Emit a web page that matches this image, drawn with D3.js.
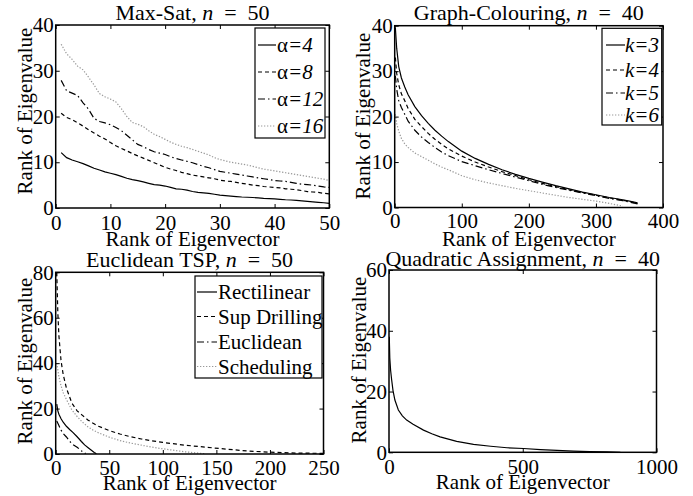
<!DOCTYPE html>
<html>
<head>
<meta charset="utf-8">
<script src="https://cdn.jsdelivr.net/npm/d3@7"></script>
</head>
<body style="margin:0">
<svg id="fig" width="693" height="496"></svg>
<script>
// ---- Max-Sat, n = 50 : eigenvalue rank per eigenvector rank ----
const satX = d3.range(1, 51);
const satA4 = [12.1, 11.0, 10.5, 10.1, 9.7, 9.2, 8.7, 8.3, 7.9, 7.6, 7.3, 6.9, 6.5, 6.2, 6.0, 5.7, 5.4, 5.1, 5.0, 4.8,
  4.5, 4.2, 4.1, 3.9, 3.6, 3.4, 3.3, 3.2, 3.0, 2.8, 2.7, 2.6, 2.5, 2.4, 2.35, 2.3, 2.2, 2.1, 2.05, 2.0,
  1.9, 1.8, 1.75, 1.65, 1.55, 1.45, 1.35, 1.25, 1.15, 1.0];
const satA8 = [20.7, 19.8, 19.3, 18.6, 17.9, 17.1, 16.4, 15.7, 15.1, 14.3, 13.6, 13.0, 12.5, 11.9, 11.4, 10.9, 10.4, 9.9, 9.4, 8.9,
  8.5, 8.2, 7.8, 7.5, 7.2, 7.0, 6.8, 6.6, 6.4, 6.1, 5.9, 5.8, 5.6, 5.4, 5.2, 5.0, 4.9, 4.7, 4.6, 4.5,
  4.4, 4.2, 4.1, 4.0, 3.8, 3.6, 3.5, 3.4, 3.2, 3.1];
const satA12 = [27.9, 25.6, 25.1, 24.6, 23.0, 21.6, 19.6, 18.9, 18.6, 18.2, 17.6, 16.9, 15.9, 14.9, 13.9, 13.4, 12.8, 12.3, 12.0, 11.7,
  11.2, 10.8, 10.5, 10.2, 9.9, 9.5, 9.1, 8.8, 8.4, 8.0, 7.8, 7.6, 7.4, 7.2, 7.0, 6.8, 6.6, 6.4, 6.2, 6.0,
  5.9, 5.8, 5.6, 5.4, 5.2, 5.1, 5.0, 4.8, 4.6, 4.5];
const satA16 = [35.8, 33.7, 32.5, 31.0, 30.2, 28.6, 26.9, 25.0, 24.3, 23.8, 23.2, 21.7, 20.0, 18.7, 18.3, 17.8, 16.9, 16.1, 15.6, 15.0,
  14.4, 13.9, 13.5, 13.2, 12.8, 12.4, 12.0, 11.6, 11.0, 10.6, 10.3, 10.0, 9.8, 9.6, 9.4, 9.1, 8.8, 8.5, 8.3, 8.1,
  7.9, 7.7, 7.5, 7.3, 7.1, 6.9, 6.7, 6.5, 6.3, 6.0];

// ---- Graph-Colouring, n = 40 ----
const gcX = [1, 3, 6, 10, 15, 20, 30, 40, 50, 60, 70, 80, 100, 120, 140, 160, 180, 200, 220, 240, 260, 280, 300, 320, 340, 350, 362];
const gcK3 = [39.5, 35, 31, 28.5, 26.5, 24.8, 22.2, 20.2, 18.5, 17.0, 15.7, 14.5, 12.4, 10.8, 9.5, 8.3, 7.3, 6.4, 5.6, 4.8, 4.1, 3.4, 2.8, 2.2, 1.7, 1.4, 1.0];
const gcK4 = [33, 29.5, 27, 25, 23.5, 21.8, 19.4, 17.8, 16.3, 15.0, 13.9, 12.9, 11.3, 10.0, 8.9, 7.9, 7.0, 6.1, 5.3, 4.6, 3.9, 3.3, 2.7, 2.1, 1.6, 1.3, 0.9];
const gcK5 = [29, 26, 23.5, 22, 20.5, 19, 17.0, 15.5, 14.3, 13.2, 12.2, 11.4, 10.1, 9.2, 8.3, 7.5, 6.7, 5.9, 5.1, 4.4, 3.8, 3.2, 2.6, 2.0, 1.5, 1.2, 0.8];
const gcK6 = [20.5, 18.5, 16.8, 15.2, 14.0, 13.2, 12.0, 11.2, 10.4, 9.6, 8.9, 8.3, 7.0, 6.1, 5.4, 4.8, 4.2, 3.7, 3.2, 2.7, 2.2, 1.8, 1.4, 0.9, 0.3, null, null];

// ---- Euclidean TSP, n = 50 ----
const tspRectX = [1, 2, 3, 5, 7, 10, 13, 16, 20, 24, 27, 30, 33, 36, 38];
const tspRectY = [22, 19, 17.5, 15.5, 14, 12.2, 10.8, 9.5, 7.6, 5.5, 4.0, 2.9, 1.8, 0.7, 0.1];
const tspDrillX = [1, 2, 3, 5, 7, 10, 15, 20, 25, 30, 35, 40, 50, 60, 70, 80, 90, 100, 120, 140, 160, 180, 200, 225, 250];
const tspDrillY = [80, 62, 52, 41, 35, 29, 22.5, 19, 17, 15, 13.5, 12.2, 10.3, 8.8, 7.6, 6.6, 5.8, 5.1, 3.9, 3.0, 2.1, 1.3, 0.8, 0.4, 0.3];
const tspEuclX = [1, 3, 5, 7, 10, 13, 16, 20, 23, 26, 28];
const tspEuclY = [14.5, 12.5, 10.5, 9, 7.5, 5.6, 4.2, 3.0, 1.8, 0.6, 0.2];
const tspSchedX = [1, 2, 3, 5, 7, 10, 15, 20, 25, 30, 35, 40, 50, 60, 70, 80, 90, 100, 120, 140];
const tspSchedY = [40, 37, 34, 30, 27, 24, 19.5, 16.5, 14, 12, 10.5, 9.3, 7.4, 5.9, 4.8, 3.9, 3.0, 2.3, 1.0, 0.1];

// ---- Quadratic Assignment, n = 40 ----
const qapX = [1, 3, 6, 10, 15, 22, 35, 50, 66, 90, 129, 160, 191, 253, 316, 380, 441, 503, 566, 628, 690, 750, 815, 865];
const qapY = [38, 31, 27, 23.8, 20.3, 17.2, 13.9, 12, 10.6, 9.2, 7.3, 6.1, 5.1, 3.6, 2.6, 2.0, 1.5, 1.25, 0.9, 0.65, 0.4, 0.25, 0.15, 0.0];

// Axis tick values per panel
const satXTicks = [0, 10, 20, 30, 40, 50], satYTicks = [0, 10, 20, 30, 40];
const gcXTicks = [0, 100, 200, 300, 400], gcYTicks = [0, 10, 20, 30, 40];
const tspXTicks = [0, 50, 100, 150, 200, 250], tspYTicks = [0, 20, 40, 60, 80];
const qapXTicks = [0, 500, 1000], qapYTicks = [0, 20, 40, 60];

// Line styles, MATLAB-like
const STYLES = {
  solid:   { stroke: "#000", dash: null },
  dashed:  { stroke: "#000", dash: "4,3" },
  dashdot: { stroke: "#000", dash: "7,3,1.5,3" },
  dotted:  { stroke: "#999", dash: "1.3,1.7" }
};

const FS = 21;
const SERIF = '"Liberation Serif", monospace';
const svg = d3.select("#fig");

// serif text helper
function label(sel, fs) {
  return sel.style("font-family", SERIF).attr("font-size", fs || FS).attr("fill", "#000");
}

function drawPanel(p) {
  const x = d3.scaleLinear().domain(p.xDomain).range([p.left, p.right]);
  const y = d3.scaleLinear().domain(p.yDomain).range([p.bottom, p.top]);
  const g = svg.append("g");

  // data lines, clipped to the axes box
  const clipId = "clip" + Math.round(p.left) + "_" + Math.round(p.top);
  svg.append("clipPath").attr("id", clipId).append("rect")
    .attr("x", p.left).attr("y", p.top).attr("width", p.right - p.left).attr("height", p.bottom - p.top);
  const lines = g.append("g").attr("clip-path", `url(#${clipId})`);
  p.series.forEach(s => {
    const pts = s.xs.map((xv, i) => [xv, s.ys[i]]);
    const line = d3.line().defined(d => d[1] != null).x(d => x(d[0])).y(d => y(d[1]));
    const st = STYLES[s.style];
    lines.append("path").datum(pts).attr("d", line)
      .attr("fill", "none").attr("stroke", st.stroke).attr("stroke-width", 1.2)
      .attr("stroke-dasharray", st.dash);
  });

  // axes: bottom/left with labels, top/right mirrored tick marks (ticks point inward)
  const tl = 4;
  const axB = d3.axisBottom(x).tickValues(p.xTicks).tickSize(-tl).tickPadding(6).tickFormat(d3.format("d"));
  const axT = d3.axisTop(x).tickValues(p.xTicks).tickSize(-tl).tickFormat("");
  const axL = d3.axisLeft(y).tickValues(p.yTicks).tickSize(-tl).tickPadding(2).tickFormat(d3.format("d"));
  const axR = d3.axisRight(y).tickValues(p.yTicks).tickSize(-tl).tickFormat("");
  const gb = g.append("g").attr("transform", `translate(0,${p.bottom})`).call(axB);
  const gt = g.append("g").attr("transform", `translate(0,${p.top})`).call(axT);
  const gl = g.append("g").attr("transform", `translate(${p.left},0)`).call(axL);
  const gr = g.append("g").attr("transform", `translate(${p.right},0)`).call(axR);
  [gb, gt, gl, gr].forEach(a => {
    a.attr("font-family", null).attr("font-size", null);
    a.select(".domain").remove();
    a.selectAll(".tick line").attr("stroke", "#000").attr("stroke-width", 1);
    label(a.selectAll("text"));
  });
  gb.selectAll(".tick text").attr("dy", null).attr("y", p.xTickBase - p.bottom);
  g.append("rect").attr("x", p.left).attr("y", p.top)
    .attr("width", p.right - p.left).attr("height", p.bottom - p.top)
    .attr("fill", "none").attr("stroke", "#000").attr("stroke-width", 1.5);

  // title with italic n and math-style spacing around "="
  const t = label(g.append("text"), 22).attr("x", (p.left + p.right) / 2).attr("y", p.titleY)
    .attr("text-anchor", "middle");
  t.append("tspan").text(p.title[0]);
  t.append("tspan").attr("font-style", "italic").text(p.title[1]);
  t.append("tspan").text("\u2002=\u2002" + p.title[2]);

  // axis labels
  label(g.append("text")).attr("x", (p.left + p.right) / 2).attr("y", p.xLabelY)
    .attr("text-anchor", "middle").text("Rank of Eigenvector");
  label(g.append("text")).attr("transform", `translate(${p.yLabelX},${p.yLabelMid}) rotate(-90)`)
    .attr("text-anchor", "middle").text("Rank of Eigenvalue");

  // legend
  if (p.legend) {
    const L = p.legend;
    g.append("rect").attr("x", L.x0).attr("y", L.y0).attr("width", L.x1 - L.x0).attr("height", L.y1 - L.y0)
      .attr("fill", "#fff").attr("stroke", "#000").attr("stroke-width", 1.2);
    p.series.forEach((s, i) => {
      const cy = L.rows[i];
      const st = STYLES[s.style];
      g.append("line").attr("x1", L.lx0).attr("x2", L.lx1).attr("y1", cy).attr("y2", cy)
        .attr("stroke", st.stroke).attr("stroke-width", 1.2).attr("stroke-dasharray", st.dash);
      const tx = label(g.append("text")).attr("x", L.tx).attr("y", cy).attr("dy", "0.35em");
      s.label.forEach(part => tx.append("tspan").attr("font-style", part.it ? "italic" : "normal").text(part.t));
    });
  }
}

const satSeries = [
  { xs: satX, ys: satA4, style: "solid", label: [{ t: "α" }, { t: "=4", it: true }] },
  { xs: satX, ys: satA8, style: "dashed", label: [{ t: "α" }, { t: "=8", it: true }] },
  { xs: satX, ys: satA12, style: "dashdot", label: [{ t: "α" }, { t: "=12", it: true }] },
  { xs: satX, ys: satA16, style: "dotted", label: [{ t: "α" }, { t: "=16", it: true }] }
];
const gcSeries = [
  { xs: gcX, ys: gcK3, style: "solid", label: [{ t: "k=3", it: true }] },
  { xs: gcX, ys: gcK4, style: "dashed", label: [{ t: "k=4", it: true }] },
  { xs: gcX, ys: gcK5, style: "dashdot", label: [{ t: "k=5", it: true }] },
  { xs: gcX, ys: gcK6, style: "dotted", label: [{ t: "k=6", it: true }] }
];
const tspSeries = [
  { xs: tspRectX, ys: tspRectY, style: "solid", label: [{ t: "Rectilinear" }] },
  { xs: tspDrillX, ys: tspDrillY, style: "dashed", label: [{ t: "Sup Drilling" }] },
  { xs: tspEuclX, ys: tspEuclY, style: "dashdot", label: [{ t: "Euclidean" }] },
  { xs: tspSchedX, ys: tspSchedY, style: "dotted", label: [{ t: "Scheduling" }] }
];
const qapSeries = [{ xs: qapX, ys: qapY, style: "solid" }];

drawPanel({
  left: 55.7, right: 329.3, top: 25, bottom: 208, xDomain: [0, 50], yDomain: [0, 40],
  xTicks: satXTicks, yTicks: satYTicks, xTickBase: 229.5, title: ["Max-Sat, ", "n", "50"], titleY: 20,
  xLabelY: 246, yLabelX: 32, yLabelMid: 111, series: satSeries,
  legend: { x0: 255, x1: 325, y0: 28, y1: 138, lx0: 258, lx1: 276, tx: 277, rows: [45, 72, 99, 126] }
});
drawPanel({
  left: 394.7, right: 663, top: 25.7, bottom: 207.5, xDomain: [0, 400], yDomain: [0, 40],
  xTicks: gcXTicks, yTicks: gcYTicks, xTickBase: 228, title: ["Graph-Colouring, ", "n", "40"], titleY: 20,
  xLabelY: 246, yLabelX: 370, yLabelMid: 116, series: gcSeries,
  legend: { x0: 602, x1: 661.7, y0: 28.3, y1: 125, lx0: 606, lx1: 625, tx: 625, rows: [45, 70, 93, 115] }
});
drawPanel({
  left: 55.7, right: 323.5, top: 272.3, bottom: 454, xDomain: [0, 250], yDomain: [0, 80],
  xTicks: tspXTicks, yTicks: tspYTicks, xTickBase: 475, title: ["Euclidean TSP, ", "n", "50"], titleY: 267,
  xLabelY: 489.5, yLabelX: 32, yLabelMid: 361, series: tspSeries,
  legend: { x0: 195, x1: 322, y0: 276, y1: 378, lx0: 197, lx1: 217, tx: 218, rows: [292, 316.5, 342, 366.5] }
});
drawPanel({
  left: 389, right: 656.5, top: 270, bottom: 452.3, xDomain: [0, 1000], yDomain: [0, 60],
  xTicks: qapXTicks, yTicks: qapYTicks, xTickBase: 474, title: ["Quadratic Assignment, ", "n", "40"], titleY: 266,
  xLabelY: 488.5, yLabelX: 366, yLabelMid: 360, series: qapSeries
});
</script>
</body>
</html>
